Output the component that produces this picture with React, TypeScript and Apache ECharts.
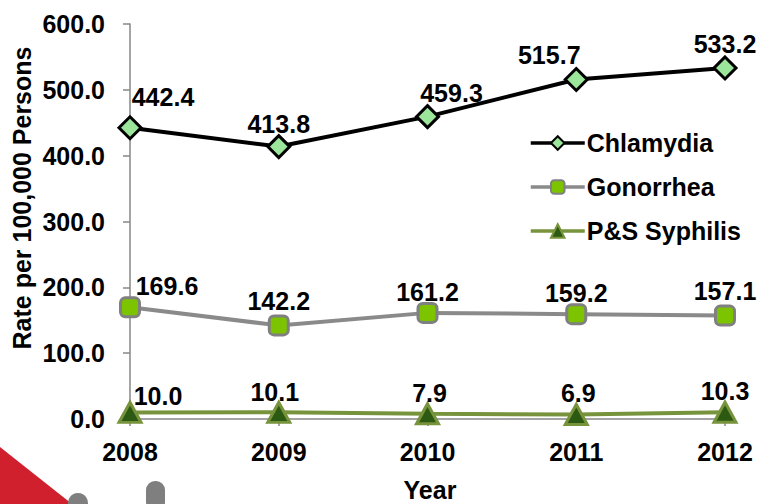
import React, { useEffect, useRef } from "react";
import * as echarts from "echarts";

const years = ["2008", "2009", "2010", "2011", "2012"];
const chlamydia = [442.4, 413.8, 459.3, 515.7, 533.2];
const gonorrhea = [169.6, 142.2, 161.2, 159.2, 157.1];
const syphilis = [10.0, 10.1, 7.9, 6.9, 10.3];
const seriesNames = ["Chlamydia", "Gonorrhea", "P&S Syphilis"];

const chlamydiaOffsets = [[33, -31], [0, -23], [24, -24], [-27, -24], [0, -24]];
const gonorrheaOffsets = [[37, -21], [0, -24], [0, -21], [0, -21], [0, -25]];
const syphilisOffsets = [[28, -16], [-4, -20], [2, -21], [2, -21], [0, -21]];

const FONT = "'Liberation Sans', Arial, sans-serif";
const FS = 25;

function withLabels(values: number[], offsets: number[][]) {
  return values.map((v, i) => ({
    value: v,
    label: { offset: offsets[i] },
  }));
}

const labelBase = {
  show: true,
  position: "inside",
  color: "#000",
  fontFamily: FONT,
  fontSize: FS,
  fontWeight: "bold",
  lineHeight: FS,
  formatter: (p: any) => Number(p.value).toFixed(1),
};

export default function App() {
  const ref = useRef<HTMLDivElement>(null);
  useEffect(() => {
    if (!ref.current) return;
    const chart = echarts.init(ref.current, null, { renderer: "svg" });
    chart.setOption({
      animation: false,
      backgroundColor: "#fff",
      grid: { left: 130, right: 32, top: 24, bottom: 85 },
      legend: {
        orient: "vertical",
        left: 524,
        top: 124,
        itemWidth: 54,
        itemHeight: 17,
        itemGap: 16,
        data: seriesNames,
        lineStyle: { width: 3.5 },
        textStyle: {
          fontFamily: FONT,
          fontSize: FS,
          fontWeight: "bold",
          color: "#000",
          lineHeight: 28,
          padding: [0, 0, 0, -3],
        },
      },
      xAxis: {
        type: "category",
        data: years,
        boundaryGap: false,
        axisLine: { lineStyle: { color: "#878787", width: 1.5 } },
        axisTick: { show: true, alignWithLabel: true, length: 7, lineStyle: { color: "#878787", width: 1.5 } },
        axisLabel: { color: "#000", fontFamily: FONT, fontSize: FS, fontWeight: "bold", margin: 20 },
      },
      yAxis: {
        type: "value",
        min: 0,
        max: 600,
        interval: 100,
        splitLine: { show: false },
        axisLine: { show: true, lineStyle: { color: "#878787", width: 1.5 } },
        axisTick: { show: true, length: 7, lineStyle: { color: "#878787", width: 1.5 } },
        axisLabel: {
          color: "#000",
          fontFamily: FONT,
          fontSize: FS,
          fontWeight: "bold",
          margin: 25,
          formatter: (v: number) => v.toFixed(1),
        },
      },
      graphic: [
        {
          type: "polygon",
          shape: { points: [[0, 447], [72, 504], [0, 504]] },
          style: { fill: "#D0202E" },
          silent: true,
        },
        { type: "circle", shape: { cx: 78, cy: 503, r: 10 }, style: { fill: "#7F7F7F" }, silent: true },
        { type: "rect", shape: { x: 146, y: 481, width: 19, height: 30, r: 9 }, style: { fill: "#7F7F7F" }, silent: true },
        {
          type: "text",
          x: 22,
          y: 198,
          rotation: Math.PI / 2,
          style: {
            text: "Rate per 100,000 Persons",
            fontFamily: FONT,
            fontSize: FS,
            fontWeight: "bold",
            fill: "#000",
            align: "center",
            verticalAlign: "middle",
          },
        },
        {
          type: "text",
          x: 430,
          y: 490,
          style: {
            text: "Year",
            fontFamily: FONT,
            fontSize: FS,
            fontWeight: "bold",
            fill: "#000",
            align: "center",
            verticalAlign: "middle",
          },
        },
      ],
      series: [
        {
          name: seriesNames[0],
          type: "line",
          data: withLabels(chlamydia, chlamydiaOffsets),
          symbol: "diamond",
          symbolSize: 22,
          lineStyle: { color: "#000", width: 4 },
          itemStyle: { color: "#9BE69B", borderColor: "#000", borderWidth: 3 },
          label: labelBase,
          z: 3,
        },
        {
          name: seriesNames[1],
          type: "line",
          data: withLabels(gonorrhea, gonorrheaOffsets),
          symbol: "roundRect",
          symbolSize: 19,
          lineStyle: { color: "#8A8A8A", width: 4 },
          itemStyle: { color: "#7CC300", borderColor: "#808080", borderWidth: 3 },
          label: labelBase,
          z: 3,
        },
        {
          name: seriesNames[2],
          type: "line",
          data: withLabels(syphilis, syphilisOffsets),
          symbol: "triangle",
          symbolSize: [22, 20],
          lineStyle: { color: "#77933C", width: 4 },
          itemStyle: { color: "#2D5A12", borderColor: "#77933C", borderWidth: 3 },
          label: labelBase,
          z: 3,
        },
      ],
    });
    return () => chart.dispose();
  }, []);
  return (
    <div
      ref={ref}
      style={{ position: "fixed", left: 0, top: 0, width: 757, height: 504, background: "#fff" }}
    />
  );
}
